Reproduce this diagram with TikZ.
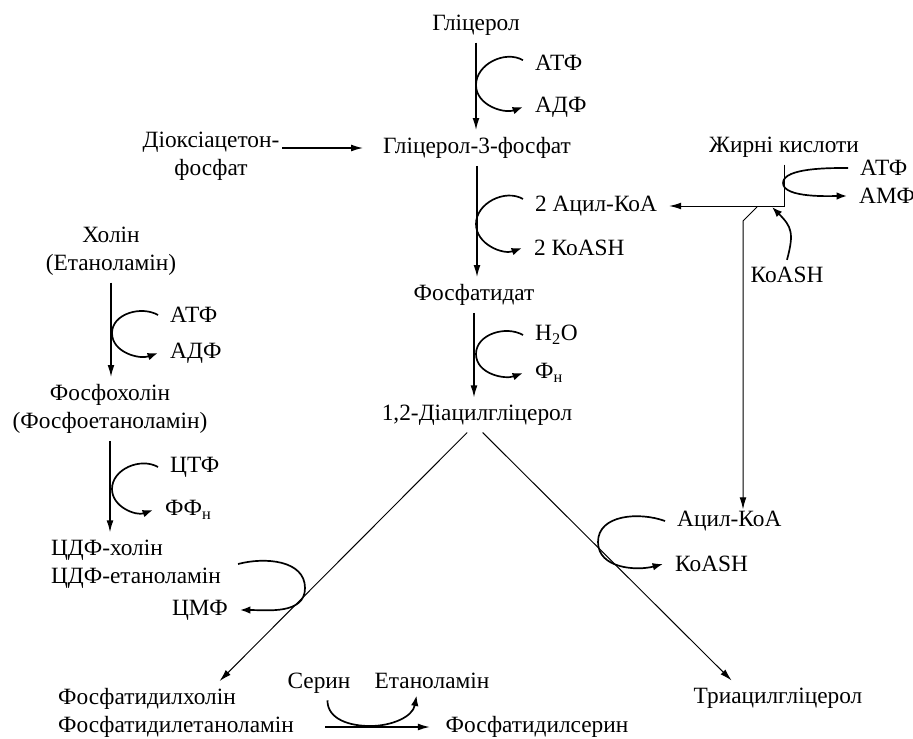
\documentclass[tikz,border=0pt]{standalone}
\usepackage{fontspec}
\setmainfont{Liberation Serif}
\usetikzlibrary{arrows.meta}

\begin{document}
\begin{tikzpicture}[x=0.025cm,y=0.025cm,font=\fontsize{16.6}{20}\selectfont,
  chem/.style={inner xsep=2pt,inner ysep=5pt},
  side/.style={inner xsep=8.5pt,inner ysep=1pt},
  flow/.style={-{Latex[length=3mm,width=1.7mm]},line width=1pt},
  fine/.style={-{Latex[length=3mm,width=1.7mm]},line width=0.7pt},
  cyc/.style={-{Latex[length=2.6mm,width=1.9mm]},line width=1.2pt}]
\useasboundingbox (0,0) rectangle (913,-738);
% main column
\node[chem] (glyc) at (476,-25) {Гліцерол};
\node[chem] (g3p) at (477,-148) {Гліцерол-3-фосфат};
\node[chem] (pa) at (474,-295) {Фосфатидат};
\node[chem] (dag) at (477,-415) {1,2-Діацилгліцерол};
\node[chem,align=center] (dhap) at (211,-156) {Діоксіацетон-\\фосфат};
\node[side,anchor=west] (atf1) at (523,-63) {АТФ};
\node[side,anchor=west] (adf1) at (523,-107) {АДФ};
\node[side,anchor=west] (acyl2) at (523,-206) {2 Ацил-КоА};
\node[side,anchor=west] (koa2) at (522,-248) {2 КоASH};
\node[side,anchor=west] (h2o) at (523,-335) {H\textsubscript{2}O};
\node[side,anchor=west] (pi1) at (523,-373) {Ф\textsubscript{н}};
% left column
\node[chem,align=center] (cho) at (111,-251) {Холін\\(Етаноламін)};
\node[chem,align=center] (pcho) at (110,-409) {Фосфохолін\\(Фосфоетаноламін)};
\node[chem,align=left] (cdp) at (136,-564) {ЦДФ-холін\\ЦДФ-етаноламін};
\node[side,anchor=west] (atf2) at (158,-315) {АТФ};
\node[side,anchor=west] (adf2) at (158,-353) {АДФ};
\node[side,anchor=west] (ctf) at (158,-467) {ЦТФ};
\node[side,anchor=west] (ppi) at (153,-510) {ФФ\textsubscript{н}};
\node[side,anchor=east] (cmf) at (240,-610) {ЦМФ};
% right column
\node[chem] (fa) at (784,-147) {Жирні кислоти};
\node[side,anchor=west] (atf3) at (848,-168) {АТФ};
\node[side,anchor=west] (amf) at (847,-196) {АМФ};
\node[chem] (koa3) at (787,-275) {КоASH};
\node[side,anchor=west] (acyl1) at (665,-521) {Ацил-КоА};
\node[side,anchor=west] (koa4) at (663,-564) {КоASH};
% bottom row
\node[chem,align=left] (pc) at (176,-713) {Фосфатидилхолін\\Фосфатидилетаноламін};
\node[chem,anchor=base] (ser) at (319,-688) {Серин};
\node[chem,anchor=base] (eta) at (432,-688) {Етаноламін};
\node[chem] (ps) at (537,-727) {Фосфатидилсерин};
\node[chem] (tag) at (778,-698) {Триацилгліцерол};
% turning points of the side loops
\coordinate (c1) at (476,-85);
\coordinate (c2) at (476,-224);
\coordinate (c3) at (476,-354);
\coordinate (c4) at (112,-333);
\coordinate (c5) at (112,-489);
\coordinate (c6) at (783,-183);
\coordinate (c7) at (598,-542);
\coordinate (c8) at (305,-588);
\coordinate (c9) at (370,-726);
\coordinate (c10) at (772,-207);
\coordinate (br) at (757,-207);
\coordinate (bend) at (743,-221);
% arrows
\draw[flow] (glyc.south) -- (glyc.south |- g3p.north);
\draw[flow] (g3p.south) -- (g3p.south |- pa.north);
\draw[flow] (pa.south) -- (pa.south |- dag.north);
\draw[flow,shorten >=12pt] (dhap.east |- g3p.west) -- (g3p.west);
\draw[flow] (cho.south) -- (cho.south |- pcho.north);
\draw[flow] (pcho.south) -- (pcho.south |- cdp.north);
\draw[fine] ([xshift=-7pt]dag.south) -- ([xshift=31pt]pc.north);
\draw[fine] ([xshift=4pt]dag.south) -- ([xshift=-33pt]tag.north);
\draw[flow,shorten <=20pt,shorten >=9pt] (pc.east |- ps.west) -- (ps.west);
\draw[fine] (fa.south) |- (acyl2.east);
\draw[fine] (br) -- (bend) -- (bend |- acyl1.north);
% side loops
\draw[cyc] ([yshift=2pt]atf1.west) to[out=150,in=90] (c1) to[out=-90,in=-160] (adf1.west);
\draw[cyc] ([yshift=5pt]acyl2.west) to[out=150,in=90] (c2) to[out=-90,in=-160] (koa2.west);
\draw[cyc] (h2o.west) to[out=150,in=90] (c3) to[out=-90,in=-160] (pi1.west);
\draw[cyc] (atf2.west) to[out=150,in=90] (c4) to[out=-90,in=-160] (adf2.west);
\draw[cyc] (ctf.west) to[out=150,in=90] (c5) to[out=-90,in=-160] (ppi.west);
\draw[cyc,looseness=0.6] (atf3.west) to[out=180,in=90] (c6) to[out=-90,in=180] (amf.west);
\draw[cyc] (acyl1.west) to[out=160,in=90] (c7) to[out=-90,in=-165] (koa4.west);
\draw[cyc] ([xshift=10pt]cdp.east) to[out=15,in=90] (c8) to[out=-90,in=0] (cmf.east);
\draw[cyc] ([xshift=6pt]ser.south) to[out=-90,in=180] (c9) to[out=0,in=-100] ([xshift=-11pt]eta.south);
\draw[cyc,looseness=1.3] (koa3.north) to[out=75,in=-45] (c10);
\end{tikzpicture}
\end{document}
